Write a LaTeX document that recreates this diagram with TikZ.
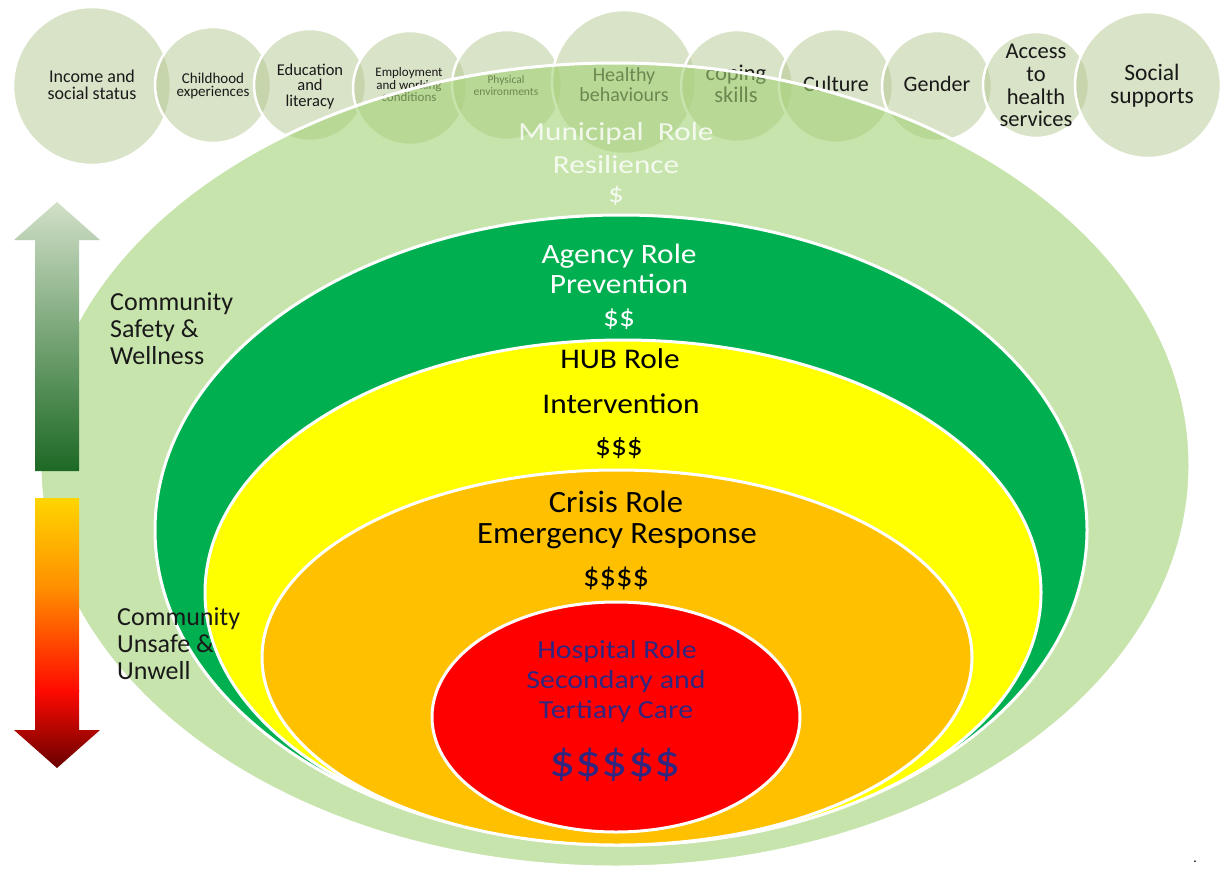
\documentclass[tikz,border=0pt]{standalone}
\usepackage{fontspec}
\setmainfont{Carlito}
\newfontfamily\fmun[FakeStretch=1.2]{Carlito}
\newfontfamily\fagn[FakeStretch=1.12]{Carlito}
\newfontfamily\fhub[FakeStretch=1.1]{Carlito}
\newfontfamily\fcri[FakeStretch=1.05]{Carlito}
\newfontfamily\fhos[FakeStretch=1.15]{Carlito}
\definecolor{circfill}{RGB}{181,201,145}
\definecolor{outerg}{RGB}{163,210,117}
\definecolor{agency}{RGB}{0,176,80}
\definecolor{hubY}{RGB}{255,255,0}
\definecolor{crisisO}{RGB}{255,192,0}
\definecolor{hospR}{RGB}{255,0,0}
\definecolor{hosptext}{RGB}{48,38,128}
\definecolor{upTop}{RGB}{210,224,200}
\definecolor{upBot}{RGB}{28,105,36}
\definecolor{dnY}{RGB}{255,214,0}
\definecolor{dnO}{RGB}{255,140,0}
\definecolor{dnR}{RGB}{255,10,0}
\definecolor{dnD}{RGB}{100,0,0}
\definecolor{txt}{RGB}{25,25,25}
\begin{document}
\begin{tikzpicture}[x=1pt,y=-1pt,line join=round,
  circ/.style={draw=white,line width=2.5pt,fill=circfill,fill opacity=0.5},
  ring/.style={draw=white,line width=3pt},
  lbl/.style={anchor=base,inner sep=0pt,text=txt},
  sz/.style 2 args={font=#1\fontsize{#2}{#2}\selectfont},
  mun/.style={lbl,text=white,text opacity=0.82,sz={\fmun}{26}},
  agn/.style={lbl,text=white,sz={\fagn}{28}},
  hub/.style={lbl,text=black,sz={\fhub}{28.5}},
  cri/.style={lbl,text=black,sz={\fcri}{31}},
  hos/.style={lbl,text=hosptext,sz={\fhos}{26}},
  side/.style={anchor=base west,inner sep=0pt,text=txt,font=\fontsize{26}{26}\selectfont}]
\useasboundingbox (0,0) rectangle (1220,870);
\fill[white] (0,0) rectangle (1220,870);
% determinant circles
\draw[circ] (92,86) circle[radius=79pt];
\draw[circ] (213,85) circle[radius=58pt];
\draw[circ] (310,85) circle[radius=56pt];
\draw[circ] (410,88) circle[radius=57pt];
\draw[circ] (507,85) circle[radius=55pt];
\draw[circ] (624,82) circle[radius=72pt];
\draw[circ] (737,86) circle[radius=56pt];
\draw[circ] (836,86) circle[radius=57pt];
\draw[circ] (937,86) circle[radius=55pt];
\draw[circ] (1036,85) circle[radius=53pt];
\draw[circ] (1148,85) circle[radius=73pt];
% circle texts
\node[lbl,font=\fontsize{18}{18}\selectfont] (c1a) at (92,82) {Income and};
\node[lbl,font=\fontsize{18}{18}\selectfont] (c1b) at (92,99) {social status};
\node[lbl,font=\fontsize{15}{15}\selectfont] (c2a) at (213,83) {Childhood};
\node[lbl,font=\fontsize{15}{15}\selectfont] (c2b) at (213,96) {experiences};
\node[lbl,font=\fontsize{16.5}{16.5}\selectfont] (c3a) at (310,75) {Education};
\node[lbl,font=\fontsize{16.5}{16.5}\selectfont] (c3b) at (310,90.5) {and};
\node[lbl,font=\fontsize{16.5}{16.5}\selectfont] (c3c) at (310,106) {literacy};
\node[lbl,font=\fontsize{13}{13}\selectfont] (c4a) at (409,76) {Employment};
\node[lbl,font=\fontsize{13}{13}\selectfont] (c4b) at (409,89) {and working};
\node[lbl,font=\fontsize{13}{13}\selectfont] (c4c) at (409,101) {conditions};
\node[lbl,font=\fontsize{11.5}{11.5}\selectfont] (c5a) at (506,83) {Physical};
\node[lbl,font=\fontsize{11.5}{11.5}\selectfont] (c5b) at (506,95) {environments};
\node[lbl,font=\fontsize{20}{20}\selectfont] (c6a) at (624,81) {Healthy};
\node[lbl,font=\fontsize{20}{20}\selectfont] (c6b) at (624,101) {behaviours};
\node[lbl,font=\fontsize{22.5}{22.5}\selectfont] (c7a) at (736,80) {coping};
\node[lbl,font=\fontsize{22.5}{22.5}\selectfont] (c7b) at (736,102) {skills};
\node[lbl,font=\fontsize{22}{22}\selectfont] (c8) at (836,91) {Culture};
\node[lbl,font=\fontsize{22}{22}\selectfont] (c9) at (937,91) {Gender};
\node[lbl,font=\fontsize{22.5}{22.5}\selectfont] (c10a) at (1036,58) {Access};
\node[lbl,font=\fontsize{22.5}{22.5}\selectfont] (c10b) at (1036,81) {to};
\node[lbl,font=\fontsize{22.5}{22.5}\selectfont] (c10c) at (1036,104) {health};
\node[lbl,font=\fontsize{22.5}{22.5}\selectfont] (c10d) at (1036,126) {services};
\node[lbl,font=\fontsize{23.5}{23.5}\selectfont] (c11a) at (1152,80) {Social};
\node[lbl,font=\fontsize{23.5}{23.5}\selectfont] (c11b) at (1152,103) {supports};
% nested ellipses
\draw[ring,fill=outerg,fill opacity=0.6] (615,465) ellipse[x radius=575pt,y radius=402pt];
\draw[ring,fill=agency] (621,530) ellipse[x radius=466pt,y radius=315pt];
\draw[ring,fill=hubY] (623,592.5) ellipse[x radius=418pt,y radius=252.5pt];
\draw[ring,fill=crisisO] (617,657.5) ellipse[x radius=355pt,y radius=187.5pt];
\draw[ring,fill=hospR] (616,717) ellipse[x radius=184pt,y radius=115pt];
% role texts
\node[mun] (m1) at (616,140) {Municipal~~Role};
\node[mun] (m2) at (616,173) {Resilience};
\node[mun] (m3) at (616,202) {\$};
\node[agn] (a1) at (619,263) {Agency Role};
\node[agn] (a2) at (619,293) {Prevention};
\node[agn] (a3) at (619,326) {\$\$};
\node[hub] (h1) at (620,368) {HUB Role};
\node[hub] (h2) at (621,413) {Intervention};
\node[hub] (h3) at (619,455) {\$\$\$};
\node[cri] (r1) at (616,512) {Crisis Role};
\node[cri] (r2) at (617,543) {Emergency Response};
\node[cri] (r3) at (616,586) {\$\$\$\$};
\node[hos] (p1) at (617,658) {Hospital Role};
\node[hos] (p2) at (616,688) {Secondary and};
\node[hos] (p3) at (616,718) {Tertiary Care};
\node[lbl,text=hosptext,font=\fhos\fontsize{45}{45}\selectfont] (p4) at (615,776) {\$\$\$\$\$};
% side arrows
\shade[top color=upTop,bottom color=upBot] (57,202) -- (100,240) -- (79,240) -- (79,471) -- (35,471) -- (35,240) -- (14,240) -- cycle;
\begin{scope}
\clip (35,498) -- (79,498) -- (79,730) -- (100,730) -- (57,768) -- (14,730) -- (35,730) -- cycle;
\shade[top color=dnY,bottom color=dnO] (10,497) rectangle (105,591);
\shade[top color=dnO,bottom color=dnR] (10,590) rectangle (105,691);
\shade[top color=dnR,bottom color=dnD] (10,690) rectangle (105,770);
\end{scope}
\node[side] (s1) at (110,310) {Community};
\node[side] (s2) at (110,337) {Safety \&};
\node[side] (s3) at (110,364) {Wellness};
\node[side] (u1) at (117,625) {Community};
\node[side] (u2) at (117,652) {Unsafe \&};
\node[side] (u3) at (117,679) {Unwell};
\node[lbl,text=black,font=\fontsize{14}{14}\selectfont] (dot) at (1195,862) {.};
\end{tikzpicture}
\end{document}
